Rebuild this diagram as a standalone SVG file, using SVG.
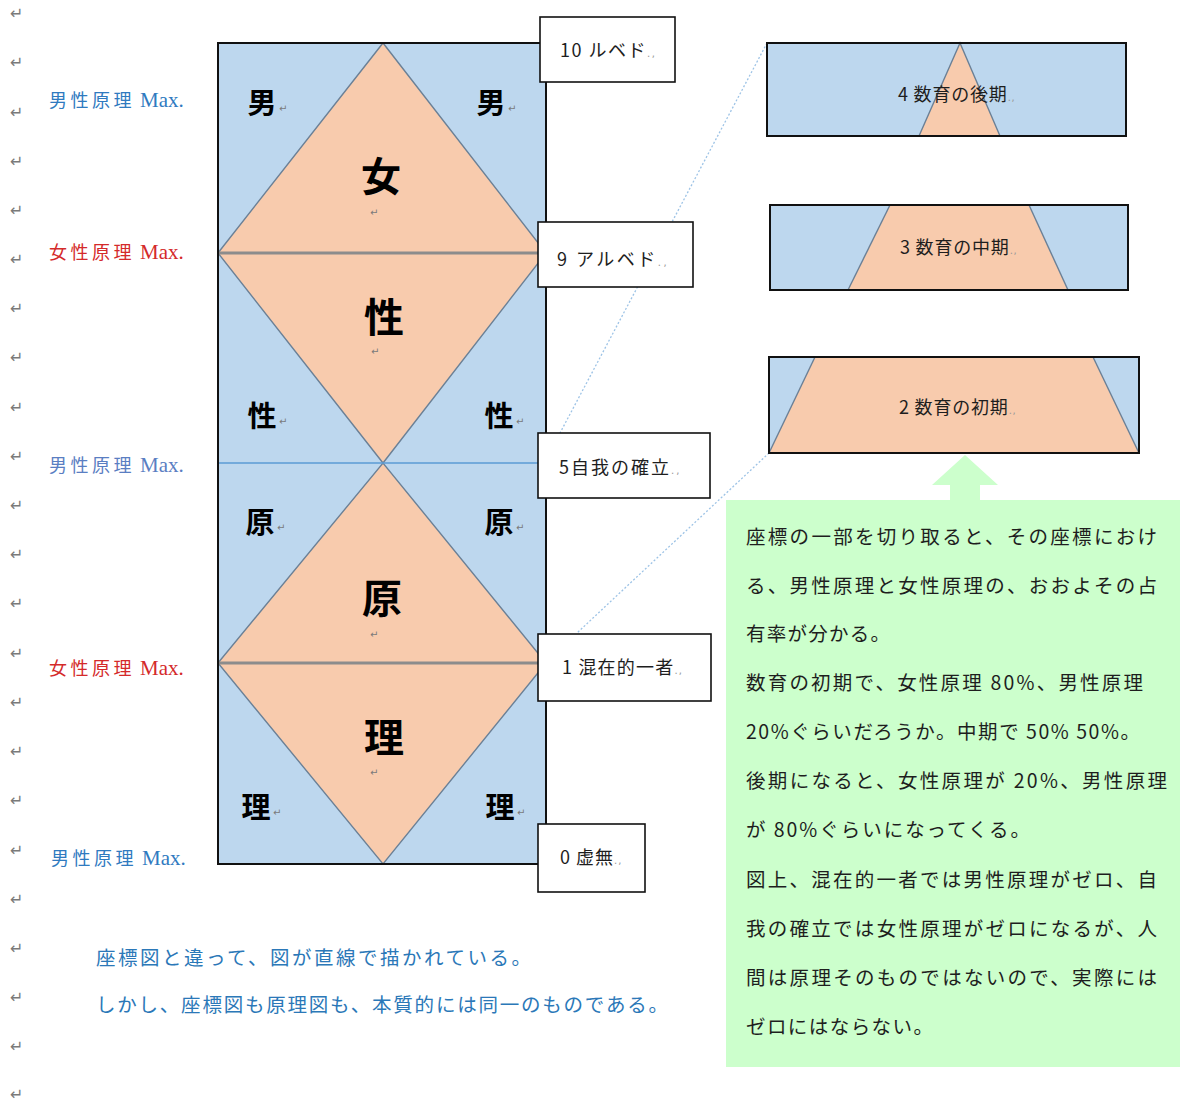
<svg xmlns="http://www.w3.org/2000/svg" width="1180" height="1102" viewBox="0 0 1180 1102">
<style>
.jp{font-family:"Noto Sans CJK JP","Noto Sans CJK SC",sans-serif;}
.big{font-family:"Noto Sans CJK JP",sans-serif;font-weight:bold;fill:#000;text-anchor:middle;}
.ret{font-family:"DejaVu Sans",sans-serif;font-size:16px;fill:#7a7a7a;}
.mk{font-family:"DejaVu Sans",sans-serif;font-size:10px;fill:#7a7a7a;}
.pm{font-family:"DejaVu Sans",sans-serif;font-size:10px;fill:#999;}
.lbl{font-family:"Noto Sans CJK JP",sans-serif;font-size:18px;fill:#1e1e1e;}
.box{fill:#fff;stroke:#111;stroke-width:1.6;}
.blue{fill:#bdd7ee;}
.org{fill:#f8cbad;}
.edge{fill:none;stroke:#6b8096;stroke-width:1.4;}
.frame{fill:none;stroke:#111;stroke-width:2;}
.dot{stroke:#9dc3e6;stroke-width:1.3;stroke-dasharray:2 2;fill:none;}
.gtxt{font-family:"Noto Sans CJK JP",sans-serif;font-size:19.5px;fill:#1e1e1e;}
.btxt{font-family:"Noto Sans CJK JP",sans-serif;font-size:19.5px;fill:#2b78b8;}
</style>

<!-- return marks left column -->
<g id="return-marks">
<text class="ret" x="10" y="19">↵</text>
<text class="ret" x="10" y="68">↵</text>
<text class="ret" x="10" y="118">↵</text>
<text class="ret" x="10" y="167">↵</text>
<text class="ret" x="10" y="216">↵</text>
<text class="ret" x="10" y="265">↵</text>
<text class="ret" x="10" y="314">↵</text>
<text class="ret" x="10" y="363">↵</text>
<text class="ret" x="10" y="413">↵</text>
<text class="ret" x="10" y="462">↵</text>
<text class="ret" x="10" y="511">↵</text>
<text class="ret" x="10" y="560">↵</text>
<text class="ret" x="10" y="609">↵</text>
<text class="ret" x="10" y="659">↵</text>
<text class="ret" x="10" y="708">↵</text>
<text class="ret" x="10" y="757">↵</text>
<text class="ret" x="10" y="806">↵</text>
<text class="ret" x="10" y="856">↵</text>
<text class="ret" x="10" y="905">↵</text>
<text class="ret" x="10" y="954">↵</text>
<text class="ret" x="10" y="1003">↵</text>
<text class="ret" x="10" y="1052">↵</text>
<text class="ret" x="10" y="1100">↵</text>
</g>

<!-- left labels -->
<g id="left-labels">
<text x="49" y="107" fill="#2f7abf"><tspan class="jp" font-size="18" letter-spacing="3.5">男性原理</tspan><tspan font-family="Liberation Serif,serif" font-size="21" dx="5">Max.</tspan></text>
<text x="49" y="259" fill="#d42a2a"><tspan class="jp" font-size="18" letter-spacing="3.5">女性原理</tspan><tspan font-family="Liberation Serif,serif" font-size="21" dx="5">Max.</tspan></text>
<text x="49" y="472" fill="#5a7ec2"><tspan class="jp" font-size="18" letter-spacing="3.5">男性原理</tspan><tspan font-family="Liberation Serif,serif" font-size="21" dx="5">Max.</tspan></text>
<text x="49" y="675" fill="#d42a2a"><tspan class="jp" font-size="18" letter-spacing="3.5">女性原理</tspan><tspan font-family="Liberation Serif,serif" font-size="21" dx="5">Max.</tspan></text>
<text x="51" y="865" fill="#2f7abf"><tspan class="jp" font-size="18" letter-spacing="3.5">男性原理</tspan><tspan font-family="Liberation Serif,serif" font-size="21" dx="5">Max.</tspan></text>
</g>

<!-- main diagram -->
<g id="main-diagram">
<rect x="218" y="43" width="328" height="821" class="blue"/>
<polygon class="org" points="383,43 218,253 546,253"/>
<polygon class="org" points="218,253 546,253 383,463"/>
<polygon class="org" points="383,463 218,663 546,663"/>
<polygon class="org" points="218,663 546,663 383,864"/>
<polygon class="edge" points="218,253 383,43 546,253 383,463"/>
<polygon class="edge" points="218,663 383,463 546,663 383,864"/>
<line x1="218" y1="253" x2="546" y2="253" stroke="#8c8c8c" stroke-width="3"/>
<line x1="218" y1="663" x2="546" y2="663" stroke="#8c8c8c" stroke-width="3"/>
<line x1="218" y1="463" x2="546" y2="463" stroke="#5b9bd5" stroke-width="1.4"/>
<rect x="218" y="43" width="328" height="821" class="frame"/>

<text class="big" x="381" y="191" font-size="40">女</text>
<text class="big" x="384" y="332" font-size="40">性</text>
<text class="big" x="382" y="613" font-size="40">原</text>
<text class="big" x="384" y="752" font-size="40">理</text>
<text class="mk" x="370" y="216">↵</text>
<text class="mk" x="371" y="355">↵</text>
<text class="mk" x="370" y="638">↵</text>
<text class="mk" x="370" y="776">↵</text>

<text class="big" x="262" y="114" font-size="29">男</text>
<text class="big" x="491" y="114" font-size="29">男</text>
<text class="big" x="262" y="427" font-size="29">性</text>
<text class="big" x="499" y="427" font-size="29">性</text>
<text class="big" x="260" y="533" font-size="29">原</text>
<text class="big" x="499" y="533" font-size="29">原</text>
<text class="big" x="256" y="818" font-size="29">理</text>
<text class="big" x="500" y="818" font-size="29">理</text>
<text class="mk" x="279" y="112" font-size="13">↵</text>
<text class="mk" x="508" y="112" font-size="13">↵</text>
<text class="mk" x="279" y="425" font-size="13">↵</text>
<text class="mk" x="516" y="425" font-size="13">↵</text>
<text class="mk" x="277" y="531" font-size="13">↵</text>
<text class="mk" x="516" y="531" font-size="13">↵</text>
<text class="mk" x="273" y="816" font-size="13">↵</text>
<text class="mk" x="517" y="816" font-size="13">↵</text>
</g>

<!-- connectors -->
<g id="connectors">
<line class="dot" x1="767" y1="43" x2="560" y2="433"/>
<line class="dot" x1="769" y1="453" x2="577" y2="633"/>
</g>

<!-- stage boxes -->
<g id="box-10">
<rect class="box" x="540" y="17" width="135" height="65"/>
<text class="lbl" x="560" y="57" letter-spacing="1.5">10 ルベド<tspan class="pm">.,</tspan></text>
</g>
<g id="box-9">
<rect class="box" x="538" y="222" width="155" height="65"/>
<text class="lbl" x="557" y="266" letter-spacing="2.5">9 アルベド<tspan class="pm">.,</tspan></text>
</g>
<g id="box-5">
<rect class="box" x="538" y="433" width="172" height="65"/>
<text class="lbl" x="559" y="474" letter-spacing="2">5自我の確立<tspan class="pm">.,</tspan></text>
</g>
<g id="box-1">
<rect class="box" x="538" y="634" width="173" height="67"/>
<text class="lbl" x="562" y="674" letter-spacing="1.2">1 混在的一者<tspan class="pm">.,</tspan></text>
</g>
<g id="box-0">
<rect class="box" x="538" y="824" width="107" height="68"/>
<text class="lbl" x="560" y="864" letter-spacing="1">0 虚無<tspan class="pm">.,</tspan></text>
</g>

<!-- education stage boxes -->
<g id="stage-4">
<rect class="blue" x="767" y="43" width="359" height="93"/>
<polygon class="org" points="960,43 919,136 1000,136"/>
<polyline class="edge" points="919,136 960,43 1000,136"/>
<rect class="frame" x="767" y="43" width="359" height="93"/>
<text class="lbl" x="898" y="101" letter-spacing="0.8">4 数育の後期<tspan class="pm">.,</tspan></text>
</g>
<g id="stage-3">
<rect class="blue" x="770" y="205" width="358" height="85"/>
<polygon class="org" points="890,205 1029,205 1068,290 848,290"/>
<line class="edge" x1="890" y1="205" x2="848" y2="290"/>
<line class="edge" x1="1029" y1="205" x2="1068" y2="290"/>
<rect class="frame" x="770" y="205" width="358" height="85"/>
<text class="lbl" x="900" y="254" letter-spacing="0.8">3 数育の中期<tspan class="pm">.,</tspan></text>
</g>
<g id="stage-2">
<rect class="blue" x="769" y="357" width="370" height="96"/>
<polygon class="org" points="815,357 1093,357 1139,453 769,453"/>
<line class="edge" x1="815" y1="357" x2="769" y2="453"/>
<line class="edge" x1="1093" y1="357" x2="1139" y2="453"/>
<rect class="frame" x="769" y="357" width="370" height="96"/>
<text class="lbl" x="899" y="414" letter-spacing="0.8">2 数育の初期<tspan class="pm">.,</tspan></text>
</g>

<!-- green note -->
<g id="note">
<polygon fill="#ccffcc" points="965,455 998,485 980,485 980,501 950,501 950,485 932,485"/>
<rect x="726" y="500" width="454" height="567" fill="#ccffcc"/>
<text class="gtxt" x="746" y="544" textLength="411" lengthAdjust="spacing">座標の一部を切り取ると、その座標におけ</text>
<text class="gtxt" x="746" y="593" textLength="411" lengthAdjust="spacing">る、男性原理と女性原理の、おおよその占</text>
<text class="gtxt" x="746" y="641" textLength="144" lengthAdjust="spacing">有率が分かる。</text>
<text class="gtxt" x="746" y="690" textLength="397" lengthAdjust="spacing">数育の初期で、女性原理 80%、男性原理</text>
<text class="gtxt" x="746" y="739" textLength="394" lengthAdjust="spacing">20%ぐらいだろうか。中期で 50% 50%。</text>
<text class="gtxt" x="746" y="788" textLength="421" lengthAdjust="spacing">後期になると、女性原理が 20%、男性原理</text>
<text class="gtxt" x="746" y="837" textLength="284" lengthAdjust="spacing">が 80%ぐらいになってくる。</text>
<text class="gtxt" x="746" y="887" textLength="411" lengthAdjust="spacing">図上、混在的一者では男性原理がゼロ、自</text>
<text class="gtxt" x="746" y="936" textLength="411" lengthAdjust="spacing">我の確立では女性原理がゼロになるが、人</text>
<text class="gtxt" x="746" y="985" textLength="411" lengthAdjust="spacing">間は原理そのものではないので、実際には</text>
<text class="gtxt" x="746" y="1034" textLength="187" lengthAdjust="spacing">ゼロにはならない。</text>
</g>

<!-- bottom text -->
<g id="bottom-text">
<text class="btxt" x="96" y="965" textLength="435" lengthAdjust="spacing">座標図と違って、図が直線で描かれている。</text>
<text class="btxt" x="96" y="1012" textLength="572" lengthAdjust="spacing">しかし、座標図も原理図も、本質的には同一のものである。</text>
</g>
</svg>
